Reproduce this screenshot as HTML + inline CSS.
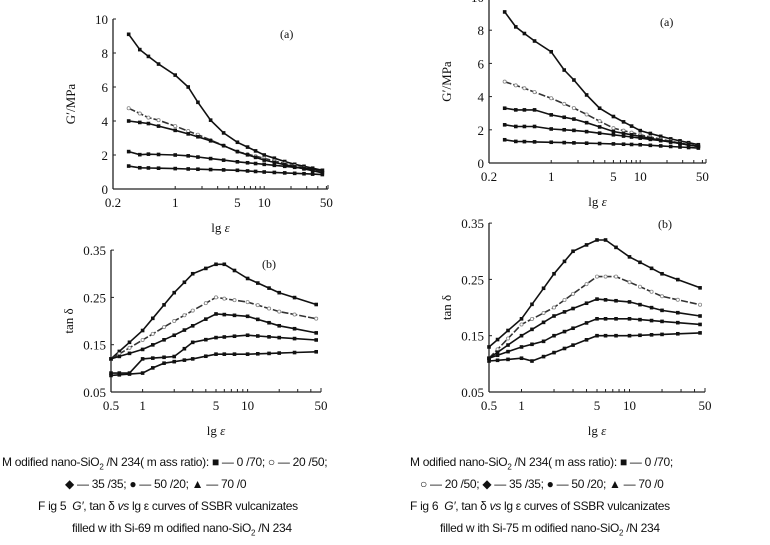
<!DOCTYPE html><html><head><meta charset="utf-8"><style>
body{margin:0;background:#fff;width:770px;height:545px;overflow:hidden;position:relative;font-family:"Liberation Serif",serif;}
svg{position:absolute;left:0;top:0}
.cap{position:absolute;font-family:"Liberation Sans",sans-serif;font-size:12px;color:#111;white-space:nowrap;letter-spacing:-0.3px}
</style></head><body>
<svg id="s" width="770" height="545" font-family="Liberation Serif, serif" fill="#111"></svg>
<div class="cap" style="left:2px;top:455px">M odified nano-SiO<sub style="font-size:8px">2</sub> /N 234( m ass ratio): ■ — 0 /70; ○ — 20 /50;</div>
<div class="cap" style="left:65px;top:477px">◆ — 35 /35; ● — 50 /20; ▲ — 70 /0</div>
<div class="cap" style="left:38px;top:499px">F ig 5 &nbsp;<i>G′</i>, tan δ <i>vs</i> lg ε curves of SSBR vulcanizates</div>
<div class="cap" style="left:72px;top:521px">filled w ith Si-69 m odified nano-SiO<sub style="font-size:8px">2</sub> /N 234</div>
<div class="cap" style="left:410px;top:455px">M odified nano-SiO<sub style="font-size:8px">2</sub> /N 234( m ass ratio): ■ — 0 /70;</div>
<div class="cap" style="left:420px;top:477px">○ — 20 /50; ◆ — 35 /35; ● — 50 /20; ▲ — 70 /0</div>
<div class="cap" style="left:410px;top:499px">F ig 6 &nbsp;<i>G′</i>, tan δ <i>vs</i> lg ε curves of SSBR vulcanizates</div>
<div class="cap" style="left:440px;top:521px">filled w ith Si-75 m odified nano-SiO<sub style="font-size:8px">2</sub> /N 234</div>
<script>
const s=document.getElementById('s');let h='';
function L(x){return Math.log10(x)}
function plot(o){
 const X=v=>o.x0+(L(v)-L(o.xmin))*o.dec, Y=v=>o.yb-(v-o.ymin)*o.py;
 h+=`<line x1="${o.x0}" y1="${o.yt}" x2="${o.x0}" y2="${o.yb}" stroke="#222" stroke-width="1.3"/>`;
 h+=`<line x1="${o.x0}" y1="${o.yb}" x2="${o.xe}" y2="${o.yb}" stroke="#222" stroke-width="1.3"/>`;
 h+=`<line x1="${o.xe}" y1="${o.yb}" x2="${o.xe}" y2="${o.yb-4}" stroke="#222"/>`;
 o.yt2.forEach(v=>{h+=`<line x1="${o.x0}" y1="${Y(v)}" x2="${o.x0+3}" y2="${Y(v)}" stroke="#222"/><text x="${o.x0-5}" y="${Y(v)+5}" font-size="13" text-anchor="end">${v}</text>`});
 [1,2,3,4,5,6,7,8,9,10,20,30,40,50].forEach(v=>{if(v>=o.xmin&&X(v)<=o.xe+1)h+=`<line x1="${X(v)}" y1="${o.yb}" x2="${X(v)}" y2="${o.yb-3}" stroke="#222"/>`});
 o.xl.forEach(v=>{h+=`<text x="${X(v)}" y="${o.yb+18}" font-size="13" text-anchor="middle">${v}</text>`});
 h+=`<text x="${(o.x0+o.xe)/2}" y="${o.yb+43}" font-size="13" text-anchor="middle">lg <tspan font-style="italic">ε</tspan></text>`;
 h+=`<text x="${o.lx}" y="${o.ly}" font-size="12">${o.lab}</text>`;
 h+=`<text transform="translate(${o.x0-38},${(o.yt+o.yb)/2}) rotate(-90)" font-size="13" text-anchor="middle">${o.yl}</text>`;
 o.ser.forEach((d,i)=>{
  let pts=d.map(p=>[X(p[0]),Y(p[1])]);
  let path='M'+pts.map(p=>p[0].toFixed(1)+','+p[1].toFixed(1)).join(' L');
  h+=`<path d="${path}" fill="none" stroke="${i==1?'#333':'#111'}" stroke-width="1.6" ${i==1?'stroke-dasharray="7,2"':''}/>`;
  pts.forEach(p=>{h+= i==1?`<circle cx="${p[0]}" cy="${p[1]}" r="1.6" fill="#fff" stroke="#888" stroke-width="0.8"/>`:`<rect x="${p[0]-1.8}" y="${p[1]-1.8}" width="3.6" height="3.6" fill="#111"/>`});
 });
}
function interp(k,xs){
 return xs.map(x=>{for(let i=0;i<k.length-1;i++){if(x>=k[i][0]&&x<=k[i+1][0]){let t=(L(x)-L(k[i][0]))/(L(k[i+1][0])-L(k[i][0]));return [x,k[i][1]+t*(k[i+1][1]-k[i][1])]}}return [x,k[k.length-1][1]]});
}
const xg=[0.3,0.4,0.5,0.65,1,1.4,1.8,2.5,3.5,5,6.5,8,10,13,17,22,28,35,45];
const xt=[0.5,0.6,0.75,1,1.25,1.6,2,2.5,3,4,5,6,7.5,10,12.5,16,20,28,45];
const g=a=>a.map(k=>interp(k,xg)), t=a=>a.map(k=>interp(k,xt));
plot({x0:113,xe:328,xmin:0.2,dec:89,yb:189,yt:19,ymin:0,py:17,yt2:[0,2,4,6,8,10],xl:[0.2,1,5,10,50],lab:"(a)",lx:280,ly:38,yl:"G′/MPa",
 ser:g([[[0.3,9.1],[0.4,8.2],[0.5,7.8],[0.65,7.35],[1,6.7],[1.4,6.0],[1.8,5.1],[2.5,4.05],[3.5,3.3],[5,2.75],[10,2.0],[20,1.5],[45,1.1]],
 [[0.3,4.75],[0.5,4.2],[0.65,4.05],[1,3.7],[2,3.1],[5,2.2],[10,1.8],[20,1.4],[45,1.0]],
 [[0.3,4.0],[0.5,3.85],[0.65,3.7],[1,3.45],[1.5,3.2],[2,3.0],[3,2.7],[5,2.2],[10,1.7],[20,1.35],[45,0.95]],
 [[0.3,2.2],[0.4,2.02],[0.5,2.05],[1,2.0],[1.4,1.95],[2,1.85],[5,1.6],[10,1.45],[20,1.3],[45,1.1]],
 [[0.3,1.35],[0.4,1.25],[1,1.2],[5,1.1],[10,1.0],[45,0.85]]])});
plot({x0:489,xe:706,xmin:0.2,dec:89,yb:163,yt:0,ymin:0,py:16.6,yt2:[0,2,4,6,8,10],xl:[0.2,1,5,10,50],lab:"(a)",lx:660,ly:26,yl:"G′/MPa",
 ser:g([[[0.3,9.1],[0.4,8.2],[0.5,7.8],[0.65,7.35],[1,6.7],[1.4,5.6],[1.8,5.0],[2.5,4.1],[3.5,3.3],[5,2.8],[10,1.95],[20,1.5],[45,1.1]],
 [[0.3,4.9],[0.5,4.5],[1,3.9],[2,3.2],[3,2.7],[5,2.1],[10,1.7],[20,1.35],[45,1.0]],
 [[0.3,3.3],[0.4,3.2],[0.65,3.2],[1,2.9],[2,2.6],[5,1.9],[10,1.6],[20,1.3],[45,1.0]],
 [[0.3,2.3],[0.4,2.2],[0.65,2.2],[1,2.05],[2,1.95],[5,1.7],[10,1.5],[20,1.3],[45,1.0]],
 [[0.3,1.4],[0.4,1.3],[1,1.25],[5,1.15],[10,1.1],[45,0.9]]])});
plot({x0:111,xe:321,xmin:0.5,dec:105,yb:392,yt:250,ymin:0.05,py:473,yt2:[0.05,0.15,0.25,0.35],xl:[0.5,1,5,10,50],lab:"(b)",lx:262,ly:268,yl:"tan δ",
 ser:t([[[0.5,0.12],[1,0.18],[2,0.26],[3,0.30],[5,0.32],[6,0.32],[10,0.29],[20,0.26],[45,0.235]],
 [[0.5,0.12],[1,0.16],[2,0.20],[5,0.25],[10,0.24],[20,0.22],[45,0.205]],
 [[0.5,0.12],[1,0.14],[2,0.17],[5,0.215],[10,0.21],[20,0.19],[45,0.175]],
 [[0.5,0.09],[0.75,0.09],[1,0.12],[2,0.125],[3,0.155],[5,0.165],[10,0.17],[20,0.165],[45,0.16]],
 [[0.5,0.085],[1,0.09],[1.5,0.11],[3,0.12],[5,0.13],[10,0.13],[45,0.135]]])});
plot({x0:489,xe:705,xmin:0.5,dec:108,yb:392,yt:223,ymin:0.05,py:563,yt2:[0.05,0.15,0.25,0.35],xl:[0.5,1,5,10,50],lab:"(b)",lx:658,ly:228,yl:"tan δ",
 ser:t([[[0.5,0.13],[1,0.18],[2,0.26],[3,0.30],[5,0.32],[6,0.32],[10,0.29],[20,0.26],[45,0.235]],
 [[0.5,0.11],[1,0.17],[2,0.20],[5,0.255],[7.5,0.255],[10,0.245],[20,0.22],[45,0.205]],
 [[0.5,0.11],[1,0.15],[2,0.185],[5,0.215],[10,0.21],[20,0.195],[45,0.185]],
 [[0.5,0.11],[1,0.13],[1.6,0.14],[2,0.15],[5,0.18],[10,0.18],[45,0.17]],
 [[0.5,0.105],[1,0.11],[1.25,0.105],[2,0.12],[5,0.15],[10,0.15],[45,0.155]]])});
s.innerHTML=h;
</script></body></html>
